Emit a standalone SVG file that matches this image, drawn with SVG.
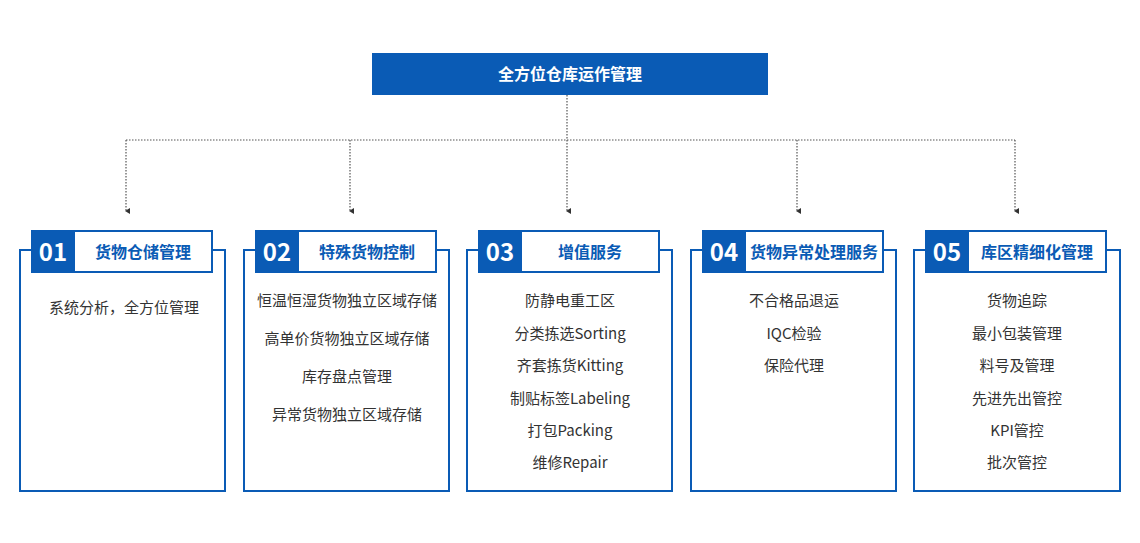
<svg xmlns="http://www.w3.org/2000/svg" width="1140" height="543" viewBox="0 0 1140 543">
<style>
text{font-family:"Noto Sans CJK SC","Noto Sans",sans-serif}
.c{fill:none;stroke:#555;stroke-width:1.2;stroke-dasharray:1.5 1.5}
.card{fill:#fff;stroke:#0a5bb5;stroke-width:2}
.hd{fill:#fff;stroke:#0a5bb5;stroke-width:2}
.num{fill:#0a5bb5}
.n{fill:#fff;font-size:24px;font-weight:700;text-anchor:middle}
.h{fill:#0a5bb5;font-size:16px;font-weight:700;text-anchor:middle}
.t{fill:#333;font-size:15px;text-anchor:middle}
</style>
<defs><marker id="a" markerWidth="6" markerHeight="6" refX="3" refY="5" orient="auto-start-reverse" markerUnits="userSpaceOnUse"><path d="M0,1 L6,1 L3,6 z" fill="#333"/></marker>
<marker id="b" viewBox="0 0 6 6" markerWidth="6" markerHeight="6" refX="3" refY="5" orient="auto" markerUnits="userSpaceOnUse"><path d="M0,1 L6,1 L3,6 z" fill="#333"/></marker></defs>
<g id="root"><rect x="372" y="53" width="396" height="42" fill="#0a5bb5"/><text x="570" y="80" fill="#fff" font-size="16" font-weight="700" text-anchor="middle">全方位仓库运作管理</text></g>
<g id="connectors">
<path class="c" d="M567,95 V140 M126,140 H1015"/>
<path class="c" d="M126,140 V211" marker-end="url(#b)"/>
<path class="c" d="M350,140 V211" marker-end="url(#b)"/>
<path class="c" d="M567,140 V211" marker-end="url(#b)"/>
<path class="c" d="M797,140 V211" marker-end="url(#b)"/>
<path class="c" d="M1015,140 V211" marker-end="url(#b)"/>
</g>
<g id="n1"><rect class="card" x="20" y="250" width="205" height="241"/><rect class="hd" x="32" y="231" width="180" height="41"/><rect class="num" x="32" y="231" width="43" height="41"/><text class="n" x="53" y="261">01</text><text class="h" x="143" y="258">货物仓储管理</text>
<text class="t" x="124" y="313">系统分析，全方位管理</text></g>
<g id="n2"><rect class="card" x="244" y="250" width="205" height="241"/><rect class="hd" x="256" y="231" width="180" height="41"/><rect class="num" x="256" y="231" width="43" height="41"/><text class="n" x="277" y="261">02</text><text class="h" x="367" y="258">特殊货物控制</text>
<text class="t" x="347" y="306">恒温恒湿货物独立区域存储</text><text class="t" x="347" y="344">高单价货物独立区域存储</text><text class="t" x="347" y="382">库存盘点管理</text><text class="t" x="347" y="420">异常货物独立区域存储</text></g>
<g id="n3"><rect class="card" x="467" y="250" width="205" height="241"/><rect class="hd" x="479" y="231" width="180" height="41"/><rect class="num" x="479" y="231" width="43" height="41"/><text class="n" x="500" y="261">03</text><text class="h" x="590" y="258">增值服务</text>
<text class="t" x="570" y="306">防静电重工区</text><text class="t" x="570" y="339">分类拣选Sorting</text><text class="t" x="570" y="371">齐套拣货Kitting</text><text class="t" x="570" y="404">制贴标签Labeling</text><text class="t" x="570" y="436">打包Packing</text><text class="t" x="570" y="468">维修Repair</text></g>
<g id="n4"><rect class="card" x="691" y="250" width="205" height="241"/><rect class="hd" x="703" y="231" width="180" height="41"/><rect class="num" x="703" y="231" width="43" height="41"/><text class="n" x="724" y="261">04</text><text class="h" x="814" y="258">货物异常处理服务</text>
<text class="t" x="794" y="306">不合格品退运</text><text class="t" x="794" y="339">IQC检验</text><text class="t" x="794" y="371">保险代理</text></g>
<g id="n5"><rect class="card" x="914" y="250" width="206" height="241"/><rect class="hd" x="926" y="231" width="180" height="41"/><rect class="num" x="926" y="231" width="43" height="41"/><text class="n" x="947" y="261">05</text><text class="h" x="1037" y="258">库区精细化管理</text>
<text class="t" x="1017" y="306">货物追踪</text><text class="t" x="1017" y="339">最小包装管理</text><text class="t" x="1017" y="371">料号及管理</text><text class="t" x="1017" y="404">先进先出管控</text><text class="t" x="1017" y="436">KPI管控</text><text class="t" x="1017" y="468">批次管控</text></g>
</svg>
